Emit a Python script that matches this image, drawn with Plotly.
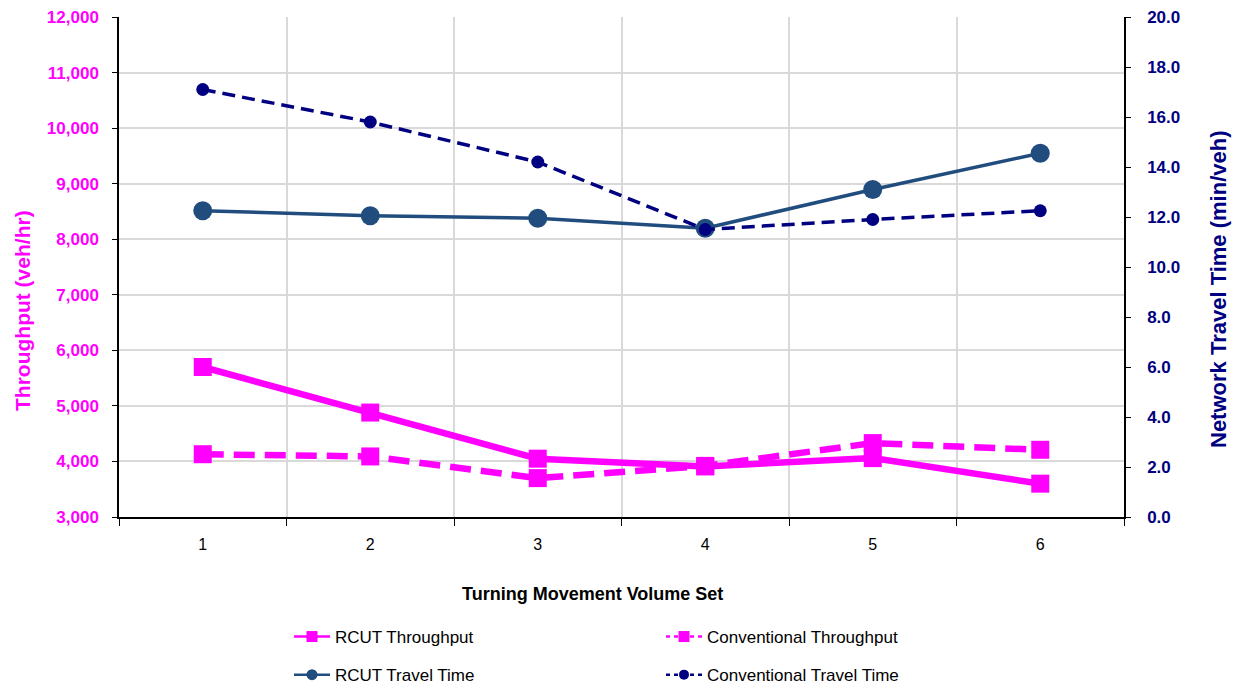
import plotly.graph_objects as go

sets = [1, 2, 3, 4, 5, 6]
rcut_throughput = [5700, 4880, 4050, 3910, 4060, 3600]
conv_throughput = [4130, 4090, 3700, 3920, 4330, 4210]
rcut_travel = [12.25, 12.05, 11.95, 11.55, 13.1, 14.55]
conv_travel = [17.1, 15.8, 14.2, 11.5, 11.9, 12.25]

MAG = "#FF00FF"
RC_TT = "#214C7E"
CV_TT = "#000080"
FONT = "Liberation Sans"

W, H = 1238, 686
ML, MR, MT, MB = 119, 114, 17, 169
PW = W - ML - MR
PH = H - MT - MB


def cx(p):
    return p / W


def cy(p):
    return 1 - p / H


def paper_x(p):
    return (p - ML) / PW


def paper_y(p):
    return (H - MB - p) / PH


series = [
    # name, values, axis, colour, width, dash, symbol, size, legend, legend dash, legend size
    ("RCUT Throughput", rcut_throughput, "y", MAG, 6.5, "solid", "square", 18, "legend", "solid", 11),
    ("RCUT Travel Time", rcut_travel, "y2", RC_TT, 3.5, "solid", "circle", 19, "legend", "solid", 11),
    ("Conventional Throughput", conv_throughput, "y", MAG, 6.5, "21px,10px", "square", 18, "legend2", "4px,4px", 11),
    ("Conventional Travel Time", conv_travel, "y2", CV_TT, 3.5, "13px,7px", "circle", 13, "legend2", "4px,4px", 10),
]

fig = go.Figure()
for name, vals, ax, col, lw, dash, sym, sz, leg, ldash, lsz in series:
    fig.add_trace(go.Scatter(x=sets, y=vals, name=name, yaxis=ax, mode="lines+markers",
                             line=dict(color=col, width=lw, dash=dash),
                             marker=dict(symbol=sym, size=sz, color=col),
                             showlegend=False, hoverinfo="x+y+name"))
for i, (name, vals, ax, col, lw, dash, sym, sz, leg, ldash, lsz) in enumerate(series):
    # legend entry only (no data drawn)
    fig.add_trace(go.Scatter(x=[None], y=[None], name=name, yaxis=ax, mode="lines+markers",
                             line=dict(color=col, width=2.5, dash=ldash),
                             marker=dict(symbol=sym, size=lsz, color=col),
                             legend=leg, legendgroup=f"g{i}", showlegend=True))

legend_common = dict(xref="container", yref="container", xanchor="left", yanchor="middle",
                     orientation="v", traceorder="grouped", tracegroupgap=13,
                     font=dict(family=FONT, size=17, color="black"),
                     bgcolor="rgba(0,0,0,0)", itemwidth=36)

fig.update_layout(
    width=W, height=H,
    margin=dict(l=ML, r=MR, t=MT, b=MB, autoexpand=False),
    paper_bgcolor="white", plot_bgcolor="white",
    font=dict(family=FONT, color="black"),
    xaxis=dict(range=[0.5, 6.5], tickvals=sets, ticktext=[str(s) for s in sets],
               showgrid=False, ticks="", showline=True, linecolor="black", linewidth=1.5,
               tickfont=dict(family=FONT, size=16, color="black"),
               ticklabelstandoff=12, zeroline=False, automargin=False,
               minor=dict(tick0=0.5, dtick=1, ticks="outside", ticklen=7, tickcolor="black",
                          tickwidth=1, showgrid=True, gridcolor="#D9D9D9", gridwidth=1.5)),
    yaxis=dict(range=[3000, 12000], dtick=1000, tickformat=",", showgrid=True,
               gridcolor="#D9D9D9", gridwidth=1.5, showline=True, linecolor="black",
               linewidth=1.5, ticks="outside", ticklen=5, tickcolor="black",
               tickfont=dict(family=FONT, size=17, color=MAG, weight="bold"),
               ticklabelstandoff=10, zeroline=False, automargin=False),
    yaxis2=dict(range=[0, 20], dtick=2, tickformat=".1f", overlaying="y", side="right",
                showgrid=False, showline=True, linecolor="black", linewidth=1.5,
                ticks="outside", ticklen=5, tickcolor="black", zeroline=False,
                tickfont=dict(family=FONT, size=17, color=CV_TT, weight="bold"),
                ticklabelstandoff=13, automargin=False),
    legend=dict(x=cx(289), y=cy(656), **legend_common),
    legend2=dict(x=cx(661), y=cy(656), **legend_common),
    annotations=[
        dict(text="<b>Turning Movement Volume Set</b>", xref="paper", yref="paper",
             x=paper_x(592), y=paper_y(594), xanchor="center", yanchor="middle",
             showarrow=False, font=dict(family=FONT, size=18, color="black")),
        dict(text="<b>Throughput (veh/hr)</b>", xref="paper", yref="paper",
             x=paper_x(22), y=paper_y(311), xanchor="center", yanchor="middle",
             textangle=-90, showarrow=False, font=dict(family=FONT, size=21, color=MAG)),
        dict(text="<b>Network Travel Time (min/veh)</b>", xref="paper", yref="paper",
             x=paper_x(1218), y=paper_y(290), xanchor="center", yanchor="middle",
             textangle=-90, showarrow=False, font=dict(family=FONT, size=22, color=CV_TT)),
    ],
)

fig.write_html("out.html", config={"displayModeBar": False},
               post_script="document.body.style.margin='0px';")
